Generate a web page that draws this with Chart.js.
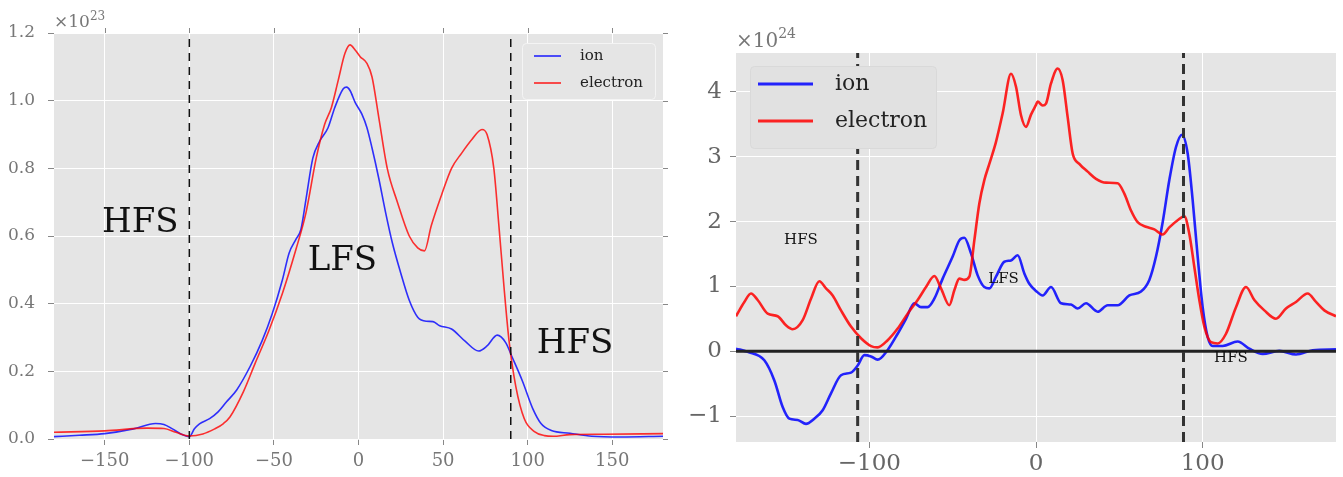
<!DOCTYPE html>
<html>
<head>
<meta charset="utf-8">
<script src="https://cdn.jsdelivr.net/npm/chart.js@4.4.1/dist/chart.umd.min.js"></script>
<style>
  html, body { margin: 0; padding: 0; background: #fff; }
  #wrap { position: relative; width: 1343px; height: 477px; }
  #left { position: absolute; left: 0; top: 0; }
  #right { position: absolute; left: 670px; top: 0; }
</style>
</head>
<body>
<div id="wrap">
  <canvas id="left" width="670" height="477"></canvas>
  <canvas id="right" width="673" height="477"></canvas>
</div>
<script>
'use strict';

// ---- left panel (x10^23) ----
var leftIonX = [-180, -165, -150, -133, -120, -115, -110, -105, -100, -97, -94, -88, -83, -78, -72, -64, -57, -51, -45, -41, -37, -34, -31, -27, -23, -18, -14, -9, -7, -5, -2, 2, 5, 8, 12, 16, 20, 25, 30, 35, 40, 44, 48, 55, 63, 71, 76, 82, 87, 91, 97, 103, 108, 114, 125, 138, 155, 180];
var leftIonY = [0.007, 0.011, 0.016, 0.03, 0.046, 0.043, 0.03, 0.015, 0.007, 0.03, 0.045, 0.06, 0.08, 0.11, 0.145, 0.215, 0.29, 0.37, 0.47, 0.55, 0.59, 0.62, 0.71, 0.83, 0.88, 0.92, 0.98, 1.035, 1.04, 1.03, 0.995, 0.96, 0.92, 0.86, 0.77, 0.67, 0.58, 0.49, 0.41, 0.36, 0.348, 0.347, 0.335, 0.325, 0.289, 0.26, 0.275, 0.307, 0.285, 0.24, 0.17, 0.09, 0.045, 0.025, 0.017, 0.008, 0.006, 0.008];

var leftElecX = [-180, -150, -125, -115, -108, -100, -92, -85, -80, -76, -68, -61, -53, -45, -37, -31, -25, -20, -16, -12, -8, -5, -2, 1, 5, 8, 12, 17, 23, 30, 35, 39, 43, 49, 55, 61, 67, 73, 76, 80, 83, 86, 89, 93, 98, 104, 110, 115, 125, 145, 180];
var leftElecY = [0.02, 0.024, 0.032, 0.031, 0.02, 0.009, 0.015, 0.03, 0.045, 0.065, 0.14, 0.225, 0.32, 0.43, 0.56, 0.67, 0.83, 0.93, 0.98, 1.06, 1.14, 1.165, 1.15, 1.13, 1.11, 1.07, 0.95, 0.8, 0.7, 0.6, 0.565, 0.556, 0.63, 0.72, 0.8, 0.845, 0.885, 0.915, 0.9, 0.8, 0.63, 0.45, 0.29, 0.155, 0.06, 0.022, 0.01, 0.008, 0.013, 0.014, 0.016];

var leftBounds = [-100, 90];
var leftXTicks = [-150, -100, -50, 0, 50, 100, 150];
var leftYTicks = [0, 0.2, 0.4, 0.6, 0.8, 1.0, 1.2];
var leftNotes = [['HFS', -129, 0.638], ['LFS', -9.5, 0.525], ['HFS', 128, 0.28]];

// ---- right panel (x10^24) ----
var rightIonX = [-180, -173, -163, -157, -152, -148, -143, -138, -133, -128, -123, -117, -111, -107, -103, -99, -95, -89, -83, -78, -73, -69, -65, -61, -56, -50, -46, -43, -39, -35, -31, -28, -24, -19, -15, -11, -7, -4, 0, 4, 9, 15, 21, 25, 30, 37, 43, 49, 56, 63, 68, 72, 76, 80, 84, 87.6, 91, 94, 97, 100, 103, 106, 112, 121, 128, 136, 146, 156, 166, 180];
var rightIonY = [0.04, -0.01, -0.14, -0.45, -0.86, -1.04, -1.06, -1.12, -1.04, -0.91, -0.65, -0.37, -0.33, -0.22, -0.06, -0.08, -0.13, 0.02, 0.27, 0.5, 0.74, 0.68, 0.68, 0.81, 1.12, 1.46, 1.71, 1.75, 1.51, 1.17, 0.99, 0.97, 1.15, 1.38, 1.4, 1.48, 1.2, 1.04, 0.93, 0.86, 0.99, 0.74, 0.72, 0.66, 0.74, 0.61, 0.71, 0.71, 0.86, 0.92, 1.1, 1.46, 1.99, 2.64, 3.15, 3.34, 3.05, 2.33, 1.46, 0.68, 0.22, 0.08, 0.08, 0.15, 0.04, -0.04, 0.005, -0.05, 0.015, 0.03];

var rightElecX = [-180, -175, -171, -167, -161, -155, -150, -146, -140, -135, -130, -126, -122, -117, -111, -105, -99, -95, -89, -83, -77, -71, -66, -61, -57, -52, -49, -46, -43, -40, -37, -34, -31, -28, -24, -20, -15, -12, -9, -6, -3, 0, 1, 4, 6, 9, 13, 16, 19, 22, 26, 31, 36, 42, 49, 53, 57, 61, 66, 71, 76, 80, 85, 89, 92, 95, 98, 101, 105, 109, 114, 120, 126, 131, 137, 144, 150, 156, 163, 168, 173, 180];
var rightElecY = [0.54, 0.76, 0.89, 0.79, 0.58, 0.54, 0.4, 0.34, 0.48, 0.81, 1.08, 0.97, 0.86, 0.63, 0.38, 0.2, 0.08, 0.06, 0.17, 0.35, 0.58, 0.79, 0.99, 1.16, 0.97, 0.71, 0.94, 1.12, 1.1, 1.15, 1.71, 2.28, 2.64, 2.89, 3.23, 3.67, 4.28, 4.08, 3.64, 3.46, 3.65, 3.8, 3.85, 3.79, 3.82, 4.13, 4.36, 4.18, 3.61, 3.05, 2.89, 2.77, 2.66, 2.6, 2.59, 2.43, 2.17, 1.99, 1.92, 1.88, 1.8, 1.91, 2.02, 2.08, 1.81, 1.3, 0.79, 0.38, 0.14, 0.12, 0.27, 0.68, 0.99, 0.79, 0.63, 0.5, 0.66, 0.76, 0.89, 0.76, 0.63, 0.54];

var rightBounds = [-107, 88.5];
var rightXTicks = [-100, 0, 100];
var rightYTicks = [-1, 0, 1, 2, 3, 4];
var rightNotes = [['HFS', -141, 1.72], ['LFS', -19.5, 1.12], ['HFS', 117, -0.11]];

var FONT = 'DejaVu Serif';

function pts(xs, ys) {
    return xs.map(function (x, i) { return {x: x, y: ys[i]}; });
}
function minus(v) {
    return String(v).replace('-', '\u2212');
}

function curve(label, xs, ys, color, width) {
    return {
        label: label, data: pts(xs, ys), showLine: true, borderColor: color,
        borderWidth: width, pointRadius: 0, cubicInterpolationMode: 'monotone'
    };
}
function straight(label, data, color, width, dash) {
    return {
        label: label, data: data, showLine: true, borderColor: color,
        borderWidth: width, borderDash: dash, pointRadius: 0, tension: 0
    };
}

// grey plotting background
var bgPlugin = {
    id: 'bg',
    beforeDraw: function (chart) {
        var a = chart.chartArea, ctx = chart.ctx;
        ctx.save();
        ctx.fillStyle = '#e5e5e5';
        ctx.fillRect(a.left, a.top, a.right - a.left, a.bottom - a.top);
        ctx.restore();
    }
};

function notesPlugin(notes, size) {
    return {
        id: 'notes',
        afterDatasetsDraw: function (chart) {
            var ctx = chart.ctx, sx = chart.scales.x, sy = chart.scales.y;
            ctx.save();
            ctx.fillStyle = '#111';
            ctx.font = size + 'px "' + FONT + '"';
            ctx.textAlign = 'center';
            ctx.textBaseline = 'middle';
            notes.forEach(function (n) {
                ctx.fillText(n[0], sx.getPixelForValue(n[1]), sy.getPixelForValue(n[2]));
            });
            ctx.restore();
        }
    };
}

function extrasPlugin(o) {
    return {
        id: 'extras',
        afterDraw: function (chart) {
            var ctx = chart.ctx, a = chart.chartArea;
            ctx.save();
            // offset label
            ctx.fillStyle = '#777';
            ctx.textAlign = 'left';
            ctx.textBaseline = 'alphabetic';
            ctx.font = o.offSize + 'px "' + FONT + '"';
            var base = '\u00d710';
            ctx.fillText(base, a.left, a.top - o.offDrop);
            var w = ctx.measureText(base).width;
            ctx.font = o.supSize + 'px "' + FONT + '"';
            ctx.fillText(o.exp, a.left + w, a.top - o.offDrop - o.supRise);

            // ticks on the top and right edges
            if (o.mirrorTicks) {
                var sx = chart.scales.x, sy = chart.scales.y;
                ctx.strokeStyle = '#888';
                ctx.lineWidth = 1;
                ctx.beginPath();
                o.xTicks.forEach(function (v) {
                    var px = Math.round(sx.getPixelForValue(v)) + 0.5;
                    ctx.moveTo(px, a.top); ctx.lineTo(px, a.top - 5);
                });
                o.yTicks.forEach(function (v) {
                    var py = Math.round(sy.getPixelForValue(v)) + 0.5;
                    ctx.moveTo(a.right, py); ctx.lineTo(a.right + 5, py);
                });
                ctx.stroke();
            }

            // legend
            var L = o.legend;
            var bx = o.legendLeft ? a.left + L.dx : a.right - L.dx - L.w;
            var by = a.top + L.dy;
            ctx.fillStyle = L.fill;
            ctx.strokeStyle = L.stroke;
            ctx.lineWidth = 1;
            ctx.beginPath();
            if (ctx.roundRect) ctx.roundRect(bx + 0.5, by + 0.5, L.w, L.h, 4);
            else ctx.rect(bx + 0.5, by + 0.5, L.w, L.h);
            ctx.fill();
            ctx.stroke();
            ctx.font = L.size + 'px "' + FONT + '"';
            ctx.textBaseline = 'middle';
            L.items.forEach(function (it, i) {
                var y = by + L.first + i * L.gap;
                ctx.strokeStyle = it[1];
                ctx.lineWidth = L.lw;
                ctx.beginPath();
                ctx.moveTo(bx + L.sw0, y);
                ctx.lineTo(bx + L.sw1, y);
                ctx.stroke();
                ctx.fillStyle = '#222';
                ctx.fillText(it[0], bx + L.tx, y);
            });
            ctx.restore();
        }
    };
}

function axisX(ticks, height, size, pad, color) {
    return {
        type: 'linear', min: -180, max: 180,
        afterBuildTicks: function (s) { s.ticks = ticks.map(function (v) { return {value: v}; }); },
        afterFit: function (s) { s.height = height; },
        grid: {color: '#ffffff', lineWidth: 1, tickColor: '#888', tickLength: 6},
        border: {display: false},
        ticks: {
            font: {family: FONT, size: size}, color: color, padding: pad,
            maxRotation: 0, autoSkip: false,
            callback: function (v) { return minus(v); }
        }
    };
}
function axisY(min, max, ticks, width, size, pad, color, fmt) {
    return {
        min: min, max: max,
        afterBuildTicks: function (s) { s.ticks = ticks.map(function (v) { return {value: v}; }); },
        afterFit: function (s) { s.width = width; },
        grid: {color: '#ffffff', lineWidth: 1, tickColor: '#888', tickLength: 6},
        border: {display: false},
        ticks: {
            font: {family: FONT, size: size}, color: color, padding: pad, autoSkip: false,
            callback: fmt
        }
    };
}

// ---------------- left chart ----------------
new Chart(document.getElementById('left'), {
    type: 'scatter',
    data: {
        datasets: [
            straight('b1', [{x: leftBounds[0], y: 0}, {x: leftBounds[0], y: 1.2}], '#111', 1.5, [8, 6]),
            straight('b2', [{x: leftBounds[1], y: 0}, {x: leftBounds[1], y: 1.2}], '#111', 1.5, [8, 6]),
            curve('electron', leftElecX, leftElecY, 'rgba(255,0,0,0.8)', 1.6),
            curve('ion', leftIonX, leftIonY, 'rgba(0,0,255,0.8)', 1.6)
        ]
    },
    options: {
        responsive: false,
        animation: false,
        devicePixelRatio: 1,
        layout: {padding: {top: 33, right: 7, left: 0, bottom: 0}},
        plugins: {legend: {display: false}, tooltip: {enabled: false}},
        scales: {
            x: axisX(leftXTicks, 38, 18, 6, '#777'),
            y: axisY(0, 1.2, leftYTicks, 54, 17, 13, '#777', function (v) { return v.toFixed(1); })
        }
    },
    plugins: [bgPlugin, notesPlugin(leftNotes, 34), extrasPlugin({
        offSize: 17, supSize: 12, exp: '23', offDrop: 6, supRise: 7,
        mirrorTicks: true, xTicks: leftXTicks, yTicks: leftYTicks, legendLeft: false,
        legend: {
            dx: 8, dy: 10, w: 133, h: 56, fill: '#e5e5e5', stroke: '#f4f4f4',
            size: 15, lw: 1.6, first: 13, gap: 27, sw0: 12, sw1: 39, tx: 58,
            items: [['ion', 'rgba(0,0,255,0.85)'], ['electron', 'rgba(255,0,0,0.85)']]
        }
    })]
});

// ---------------- right chart ----------------
new Chart(document.getElementById('right'), {
    type: 'scatter',
    data: {
        datasets: [
            straight('b1', [{x: rightBounds[0], y: -1.4}, {x: rightBounds[0], y: 4.6}], '#333', 3, [10, 6]),
            straight('b2', [{x: rightBounds[1], y: -1.4}, {x: rightBounds[1], y: 4.6}], '#333', 3, [10, 6]),
            straight('zero', [{x: -180, y: 0}, {x: 180, y: 0}], '#222', 3, []),
            curve('electron', rightElecX, rightElecY, 'rgba(255,0,0,0.85)', 2.6),
            curve('ion', rightIonX, rightIonY, 'rgba(0,0,255,0.85)', 2.6)
        ]
    },
    options: {
        responsive: false,
        animation: false,
        devicePixelRatio: 1,
        layout: {padding: {top: 53, right: 7, left: 0, bottom: 0}},
        plugins: {legend: {display: false}, tooltip: {enabled: false}},
        scales: {
            x: axisX(rightXTicks, 35, 23, 2, '#666'),
            y: axisY(-1.4, 4.6, rightYTicks, 66, 23, 8, '#666', function (v) { return minus(v); })
        }
    },
    plugins: [bgPlugin, notesPlugin(rightNotes, 15), extrasPlugin({
        offSize: 20, supSize: 14, exp: '24', offDrop: 6, supRise: 9,
        mirrorTicks: false, legendLeft: true,
        legend: {
            dx: 14, dy: 13, w: 186, h: 82, fill: '#e1e1e1', stroke: '#d9d9d9',
            size: 22, lw: 3, first: 18, gap: 37, sw0: 8, sw1: 63, tx: 85,
            items: [['ion', 'rgba(0,0,255,0.85)'], ['electron', 'rgba(255,0,0,0.85)']]
        }
    })]
});
</script>
</body>
</html>
